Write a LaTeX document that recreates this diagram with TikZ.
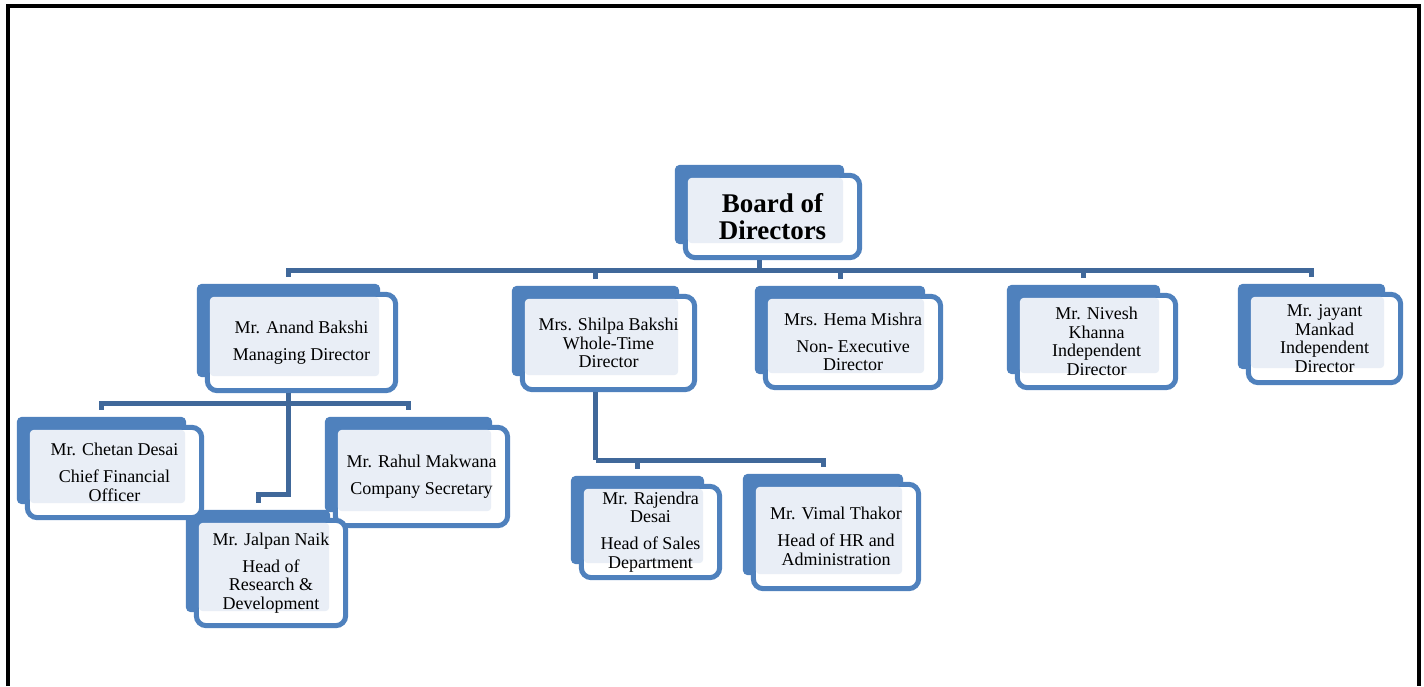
\documentclass[tikz,border=0pt]{standalone}
\usepackage{fontspec}
\setmainfont{Liberation Serif}
\definecolor{cardblue}{RGB}{79,129,189}
\definecolor{cardlight}{RGB}{233,238,246}
\definecolor{linkblue}{RGB}{64,104,154}
\pgfdeclarelayer{back}
\pgfdeclarelayer{front}
\pgfdeclarelayer{light}
\pgfsetlayers{back,front,light,main}
% back block, outlined card and pale text field of one card
\newcommand\cardframe[1]{%
  \begin{pgfonlayer}{back}
    \fill[cardblue, rounded corners=5pt] ([shift={(-8,-8)}]#1.north west) rectangle ([shift={(-18,-16)}]#1.south east);
  \end{pgfonlayer}
  \begin{pgfonlayer}{front}
    \draw[cardblue, line width=5pt, fill=white, rounded corners=10pt] ([shift={(2.5,2.5)}]#1.north west) rectangle ([shift={(-2.5,-2.5)}]#1.south east);
  \end{pgfonlayer}
  \begin{pgfonlayer}{light}
    \fill[cardlight, rounded corners=4pt] ([shift={(5,5)}]#1.north west) rectangle ([shift={(-19,-17)}]#1.south east);
  \end{pgfonlayer}
}

\begin{document}
\begin{tikzpicture}[x=1pt, y=-1pt]
\tikzset{card/.style={inner sep=0pt, align=center, font=\fontsize{18}{18.5}\selectfont},
  link/.style={draw=linkblue, line width=5pt}}
\useasboundingbox (0,0) rectangle (1424,686);
\draw[line width=4pt] (8,686) -- (8,6) -- (1419,6) -- (1419,686);

\node[card, minimum width=179, minimum height=87, font=\fontsize{27}{27}\selectfont\bfseries] (board) at (772.5,216.5) {Board of\\Directors};
\node[card, minimum width=193, minimum height=101] (anand) at (301.5,342.5) {Mr. Anand Bakshi\\[8.5pt]Managing Director};
\node[card, minimum width=177, minimum height=98] (shilpa) at (608.5,343) {Mrs. Shilpa Bakshi\\Whole-Time\\Director};
\node[card, minimum width=180, minimum height=96] (hema) at (853,342) {Mrs. Hema Mishra\\[8.5pt]Non- Executive\\Director};
\node[card, minimum width=163, minimum height=97] (nivesh) at (1096.5,341.5) {Mr. Nivesh\\Khanna\\Independent\\Director};
\node[card, minimum width=157, minimum height=93] (jayant) at (1324.5,338.5) {Mr. jayant\\Mankad\\Independent\\Director};
\node[card, minimum width=179, minimum height=95] (chetan) at (114.5,472.5) {Mr. Chetan Desai\\[8.5pt]Chief Financial\\Officer};
\node[card, minimum width=177, minimum height=103] (rahul) at (421.5,476.5) {Mr. Rahul Makwana\\[8.5pt]Company Secretary};
\node[card, minimum width=154, minimum height=110] (jalpan) at (271,573) {Mr. Jalpan Naik\\[8.5pt]Head of\\Research \&\\Development};
\node[card, minimum width=143, minimum height=96] (rajendra) at (650.5,532) {Mr. Rajendra\\Desai\\[8.5pt]Head of Sales\\Department};
\node[card, minimum width=170, minimum height=109] (vimal) at (836,536.5) {Mr. Vimal Thakor\\[8.5pt]Head of HR and\\Administration};

\foreach \n in {board,anand,shilpa,hema,nivesh,jayant,chetan,rahul,jalpan,rajendra,vimal}
  \cardframe{\n};

% connectors
\coordinate (bus1) at ([xshift=-13pt,yshift=-10pt]board.south);
\draw[link] ([xshift=-13pt]board.south) -- (bus1);
\foreach \n in {anand,shilpa,hema,nivesh,jayant}
  \draw[link] (bus1) -| ([xshift=-13pt,yshift=15pt]\n.north);

\coordinate (bus2) at ([xshift=-13pt,yshift=-10pt]anand.south);
\draw[link] ([xshift=-13pt]anand.south) -- (bus2);
\foreach \n in {chetan,rahul}
  \draw[link] (bus2) -| ([xshift=-13pt,yshift=15pt]\n.north);
\draw[link] (bus2) |- ([xshift=-13pt,yshift=23pt]jalpan.north) -- ([xshift=-13pt,yshift=15pt]jalpan.north);

\coordinate (bus3) at ([xshift=-13pt,yshift=-68pt]shilpa.south);
\draw[link] ([xshift=-13pt]shilpa.south) -- (bus3);
\foreach \n in {rajendra,vimal}
  \draw[link] (bus3) -| ([xshift=-13pt,yshift=15pt]\n.north);
\end{tikzpicture}
\end{document}
